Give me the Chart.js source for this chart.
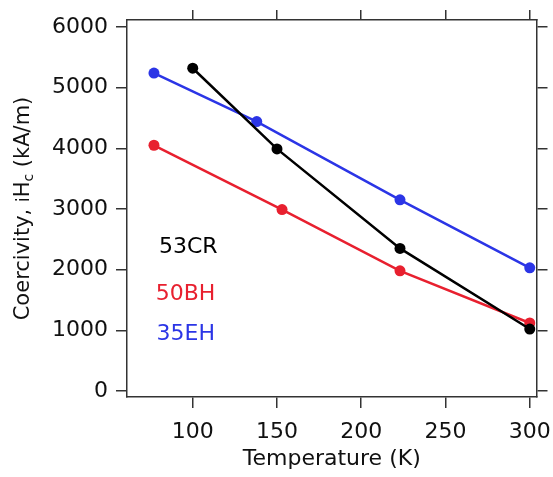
<!DOCTYPE html>
<html>
<head>
<meta charset="utf-8">
<script src="https://cdn.jsdelivr.net/npm/chart.js@4/dist/chart.umd.min.js"></script>
<style>
  html, body { margin: 0; padding: 0; background: #fff; }
</style>
</head>
<body>
<canvas id="coercivity" width="553" height="477"></canvas>
<script>
// values
const seriesNames = ["53CR", "50BH", "35EH"];
const temps53CR = [100, 150, 223, 300];
const hc53CR = [5320, 3990, 2350, 1020];
const temps50BH = [77, 153, 223, 300];
const hc50BH = [4050, 2990, 1980, 1120];
const temps35EH = [77, 138, 223, 300];
const hc35EH = [5240, 4440, 3150, 2030];
const xTicks = [100, 150, 200, 250, 300];
const yTicks = [0, 1000, 2000, 3000, 4000, 5000, 6000];

const FONT = "'DejaVu Sans', Verdana, sans-serif";
const BLACK = "#000000";
const RED = "#e8202f";
const BLUE = "#2b35e6";
const FRAME = "#333333";

function points(xs, ys) {
  return xs.map((x, i) => ({ x: x, y: ys[i] }));
}

function series(name, xs, ys, color) {
  return {
    label: name,
    data: points(xs, ys),
    borderColor: color,
    backgroundColor: color,
    borderWidth: 2.5,
    pointRadius: 5.5,
    pointHoverRadius: 5.5,
    pointBorderWidth: 0,
    tension: 0,
  };
}

const frameGrid = {
  drawOnChartArea: false,
  color: FRAME,
  lineWidth: 1.5,
  tickLength: 11,
};
const frameBorder = { display: true, color: FRAME, width: 1.5 };

// y title has a subscript, so it is drawn by hand
const yTitlePlugin = {
  id: "yTitle",
  afterDraw(chart) {
    const ctx = chart.ctx;
    const area = chart.chartArea;
    const parts = [
      { t: "Coercivity, ", size: 21, dy: 0 },
      { t: "i", size: 17, dy: 0 },
      { t: "H", size: 21, dy: 0 },
      { t: "c", size: 14, dy: 4 },
      { t: " (kA/m)", size: 21, dy: 0 },
    ];
    ctx.save();
    ctx.fillStyle = "#111";
    ctx.textBaseline = "alphabetic";
    let total = 0;
    parts.forEach(p => {
      ctx.font = p.size + "px " + FONT;
      p.w = ctx.measureText(p.t).width;
      total += p.w;
    });
    ctx.translate(29, (area.top + area.bottom) / 2);
    ctx.rotate(-Math.PI / 2);
    let x = -total / 2;
    parts.forEach(p => {
      ctx.font = p.size + "px " + FONT;
      ctx.fillText(p.t, x, p.dy);
      x += p.w;
    });
    ctx.restore();
  },
};

// series names written inside the plot
const nameLabels = [
  { text: seriesNames[0], x: 80, y: 2360, color: BLACK },
  { text: seriesNames[1], x: 78, y: 1590, color: RED },
  { text: seriesNames[2], x: 78.5, y: 930, color: BLUE },
];
const namePlugin = {
  id: "names",
  afterDatasetsDraw(chart) {
    const ctx = chart.ctx;
    const sx = chart.scales.x, sy = chart.scales.y;
    ctx.save();
    ctx.font = "22px " + FONT;
    ctx.textBaseline = "middle";
    ctx.textAlign = "left";
    nameLabels.forEach(l => {
      ctx.fillStyle = l.color;
      ctx.fillText(l.text, sx.getPixelForValue(l.x), sy.getPixelForValue(l.y));
    });
    ctx.restore();
  },
};

function fixHeight(h) {
  return s => { s.height = h; s.paddingLeft = 0; s.paddingRight = 0; };
}
function fixWidth(w) {
  return s => { s.width = w; s.paddingTop = 0; s.paddingBottom = 0; };
}

const config = {
  type: "line",
  data: {
    datasets: [
      series(seriesNames[0], temps53CR, hc53CR, BLACK),
      series(seriesNames[1], temps50BH, hc50BH, RED),
      series(seriesNames[2], temps35EH, hc35EH, BLUE),
    ],
  },
  options: {
    responsive: false,
    animation: false,
    devicePixelRatio: 1,
    layout: { padding: 0 },
    plugins: {
      legend: { display: false },
      tooltip: { enabled: false },
    },
    scales: {
      x: {
        type: "linear",
        position: "bottom",
        min: 61,
        max: 304,
        afterBuildTicks: s => { s.ticks = xTicks.map(v => ({ value: v })); },
        afterFit: fixHeight(80),
        grid: frameGrid,
        border: frameBorder,
        ticks: {
          color: "#111",
          font: { family: FONT, size: 22 },
          padding: 11,
          maxRotation: 0,
          callback: v => String(v),
        },
        title: {
          display: true,
          text: "Temperature (K)",
          color: "#111",
          font: { family: FONT, size: 22 },
          padding: { top: 0, bottom: 5 },
        },
      },
      x2: {
        type: "linear",
        position: "top",
        min: 61,
        max: 304,
        afterBuildTicks: s => { s.ticks = xTicks.map(v => ({ value: v })); },
        afterFit: fixHeight(20),
        grid: Object.assign({}, frameGrid, { tickLength: 10 }),
        border: frameBorder,
        ticks: { display: false },
      },
      y: {
        type: "linear",
        position: "left",
        min: -100,
        max: 6115,
        afterBuildTicks: s => { s.ticks = yTicks.map(v => ({ value: v })); },
        afterFit: fixWidth(127),
        grid: frameGrid,
        border: frameBorder,
        ticks: {
          color: "#111",
          font: { family: FONT, size: 22 },
          padding: 8,
          callback: v => String(v),
        },
      },
      y2: {
        type: "linear",
        position: "right",
        min: -100,
        max: 6115,
        afterBuildTicks: s => { s.ticks = yTicks.map(v => ({ value: v })); },
        afterFit: fixWidth(16.5),
        grid: frameGrid,
        border: frameBorder,
        ticks: { display: false },
      },
    },
  },
  plugins: [yTitlePlugin, namePlugin],
};

const coercivityChart = new Chart(document.getElementById("coercivity"), config);
</script>
</body>
</html>
